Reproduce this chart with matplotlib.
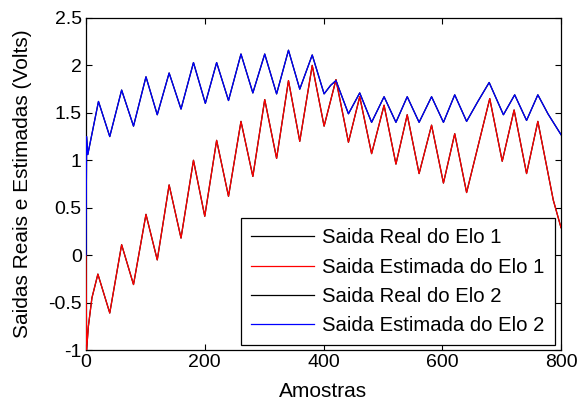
import numpy as np
from matplotlib import pyplot as plt

plt.rcParams['font.family'] = ['Liberation Sans', 'DejaVu Sans']

# Elo 1 (estimated follows the real output almost exactly)
amostras_elo1 = [0, 1, 4, 10, 20, 40, 60, 80, 101, 120, 140, 160, 181, 200, 220, 240, 261, 281,
                 301, 321, 341, 360, 381, 401, 421, 442, 461, 481, 502, 522, 541, 561, 582, 602,
                 621, 641, 680, 701, 721, 742, 761, 787, 800]
saida_elo1 = [0, -1.0, -0.75, -0.45, -0.20, -0.61, 0.11, -0.31, 0.43, -0.05, 0.74, 0.18, 1.00,
              0.41, 1.21, 0.62, 1.41, 0.83, 1.64, 1.02, 1.84, 1.20, 2.00, 1.36, 1.85, 1.19, 1.67,
              1.07, 1.58, 0.96, 1.48, 0.86, 1.37, 0.76, 1.28, 0.66, 1.65, 0.99, 1.53, 0.86, 1.41,
              0.58, 0.29]

# Elo 2
amostras_elo2 = [0, 1, 3, 21, 40, 60, 80, 101, 120, 140, 160, 181, 201, 220, 240, 261, 281, 301,
                 321, 341, 360, 381, 401, 412, 421, 442, 461, 481, 502, 522, 541, 561, 582, 602,
                 621, 641, 660, 679, 703, 722, 742, 761, 778, 800]
saida_elo2 = [0, 1.25, 1.06, 1.62, 1.25, 1.74, 1.36, 1.88, 1.48, 1.92, 1.54, 2.03, 1.60, 2.03,
              1.63, 2.12, 1.71, 2.12, 1.70, 2.16, 1.75, 2.11, 1.70, 1.79, 1.84, 1.49, 1.71, 1.40,
              1.67, 1.40, 1.67, 1.40, 1.67, 1.40, 1.69, 1.41, 1.62, 1.82, 1.48, 1.69, 1.42, 1.69,
              1.49, 1.27]

labels = ["Saida Real do Elo 1", "Saida Estimada do Elo 1",
          "Saida Real do Elo 2", "Saida Estimada do Elo 2"]

fig = plt.figure(figsize=(5.78, 4.05), dpi=100)
ax = fig.add_axes([0.1488, 0.1358, 0.8218, 0.8198])

ax.plot(amostras_elo1, saida_elo1, color='k', lw=0.9, label=labels[0])
ax.plot(amostras_elo1, saida_elo1, color='#ff0000', lw=0.9, label=labels[1])
ax.plot(amostras_elo2, saida_elo2, color='k', lw=0.9, label=labels[2])
ax.plot(amostras_elo2, saida_elo2, color='#0000ff', lw=0.9, label=labels[3])

# draw the estimates on top of the real outputs
lines = ax.get_lines()
lines[1].set_zorder(3)
lines[3].set_zorder(3)

ax.set_xlim(0, 800)
ax.set_ylim(-1, 2.5)
ax.set_xticks(np.arange(0, 801, 200))
ax.set_yticks(np.arange(-1, 2.51, 0.5))
ax.set_yticklabels(['-1', '-0.5', '0', '0.5', '1', '1.5', '2', '2.5'])
ax.tick_params(direction='in', top=True, right=True, length=4, width=0.8, labelsize=14, pad=3)
for s in ax.spines.values():
    s.set_linewidth(0.9)

ax.set_xlabel("Amostras", fontsize=15, labelpad=8)
ax.set_ylabel("Saidas Reais e Estimadas (Volts)", fontsize=15, labelpad=12)

leg = ax.legend(loc='lower right', bbox_to_anchor=(0.987, 0.015), borderaxespad=0,
                fontsize=14.6, fancybox=False, edgecolor='k', framealpha=1,
                handlelength=3.1, handletextpad=0.4, labelspacing=0.5, borderpad=0.5)
leg.get_frame().set_linewidth(0.9)

plt.savefig('out.png', dpi=100)
